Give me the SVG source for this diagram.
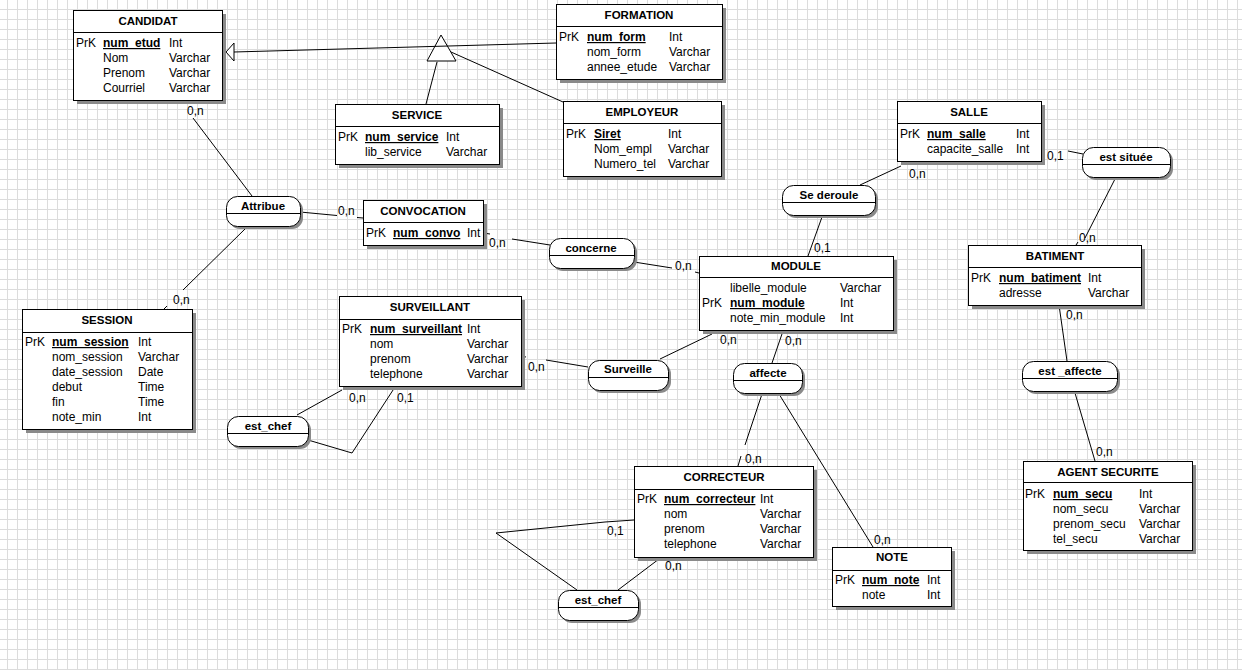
<svg xmlns="http://www.w3.org/2000/svg" width="1242" height="670" viewBox="0 0 1242 670">
<defs>
<pattern id="grid" x="7" y="9" width="10" height="10" patternUnits="userSpaceOnUse">
<path d="M0,0.5 H10 M0.5,0 V10" fill="none" stroke="#dcdcdc" stroke-width="1"/>
</pattern>
<style>
text{font-family:"Liberation Sans",Arial,sans-serif;font-size:12px;fill:#000}
.t{font-weight:bold;font-size:11.5px;text-anchor:middle}
.k{font-weight:bold;text-decoration:underline}
.box{fill:#fff;stroke:#000;stroke-width:1}
.sh{fill:#8a8a8a}
.sep{stroke:#000;stroke-width:1}
.c{fill:none;stroke:#000;stroke-width:1}
</style>
</defs>
<rect width="1242" height="670" fill="#fff"/>
<rect width="1242" height="670" fill="url(#grid)"/>

<g id="connectors">
<polygon points="441,35 427,61 456,61" fill="#fff" stroke="#000"/>
<path class="c" d="M556,43 L234,52"/>
<polygon points="226,52 234,43 234,61" fill="#fff" stroke="#000"/>
<path class="c" d="M437,62 L426,104"/>
<path class="c" d="M451,52 L563,102"/>
<path class="c" d="M180,100 L183,104 M193,118 L252,196"/>
<path class="c" d="M246,228 L183,290 M167,306 L164,309"/>
<path class="c" d="M300,212 L337,215.5 M357,217.5 L363,218"/>
<path class="c" d="M483,233 L490,234 M512,239 L550,245"/>
<path class="c" d="M634,262 L672,268 M695,272 L699,273"/>
<path class="c" d="M660,359 L712,334"/>
<path class="c" d="M772,363 L783,331"/>
<path class="c" d="M860,185 L901,166"/>
<path class="c" d="M822,217 L808,256"/>
<path class="c" d="M1041,145 L1045,146 M1068,151 L1083,154"/>
<path class="c" d="M1115,179 L1085,238 M1078,242 L1076,245"/>
<path class="c" d="M1059,305 L1067,361"/>
<path class="c" d="M1075,393 L1095,461"/>
<path class="c" d="M521,356 L526,357 M546,360 L588,367"/>
<path class="c" d="M297,415 L342,390"/>
<path class="c" d="M308,440 L352,453 L395,387"/>
<path class="c" d="M762,394 L745,445 M741,456 L738,466"/>
<path class="c" d="M779,394 L873,547"/>
<path class="c" d="M618,590 L659,559"/>
<path class="c" d="M577,590 L496,533 L605,522 L634,520"/>
<text x="187" y="115">0,n</text>
<text x="173" y="304">0,n</text>
<text x="338" y="215">0,n</text>
<text x="489" y="247">0,n</text>
<text x="675" y="270">0,n</text>
<text x="720" y="344">0,n</text>
<text x="785" y="345">0,n</text>
<text x="909" y="178">0,n</text>
<text x="814" y="252">0,1</text>
<text x="1047" y="160">0,1</text>
<text x="1079" y="242">0,n</text>
<text x="1066" y="319">0,n</text>
<text x="1096" y="456">0,n</text>
<text x="528" y="371">0,n</text>
<text x="349" y="402">0,n</text>
<text x="397" y="402">0,1</text>
<text x="745" y="463">0,n</text>
<text x="874" y="544">0,n</text>
<text x="665" y="570">0,n</text>
<text x="607" y="535">0,1</text>
</g>

<g id="CANDIDAT">
<rect class="sh" x="77" y="14" width="149" height="90"/>
<rect class="box" x="73.5" y="10.5" width="149" height="90"/>
<line class="sep" x1="73.5" y1="32.5" x2="222.5" y2="32.5"/>
<text class="t" x="148" y="25">CANDIDAT</text>
<text x="76" y="47">PrK</text><text class="k" x="103" y="47">num_etud</text><text x="169" y="47">Int</text>
<text x="103" y="62">Nom</text><text x="169" y="62">Varchar</text>
<text x="103" y="77">Prenom</text><text x="169" y="77">Varchar</text>
<text x="103" y="92">Courriel</text><text x="169" y="92">Varchar</text>
</g>

<g id="FORMATION">
<rect class="sh" x="560" y="8" width="166" height="75"/>
<rect class="box" x="556.5" y="4.5" width="166" height="75"/>
<line class="sep" x1="556.5" y1="26.5" x2="722.5" y2="26.5"/>
<text class="t" x="639" y="19">FORMATION</text>
<text x="559" y="41">PrK</text><text class="k" x="587" y="41">num_form</text><text x="669" y="41">Int</text>
<text x="587" y="56">nom_form</text><text x="669" y="56">Varchar</text>
<text x="587" y="71">annee_etude</text><text x="669" y="71">Varchar</text>
</g>

<g id="SERVICE">
<rect class="sh" x="339" y="108" width="164" height="60"/>
<rect class="box" x="335.5" y="104.5" width="164" height="60"/>
<line class="sep" x1="335.5" y1="126.5" x2="499.5" y2="126.5"/>
<text class="t" x="417" y="119">SERVICE</text>
<text x="338" y="141">PrK</text><text class="k" x="365" y="141">num_service</text><text x="446" y="141">Int</text>
<text x="365" y="156">lib_service</text><text x="446" y="156">Varchar</text>
</g>

<g id="EMPLOYEUR">
<rect class="sh" x="567" y="105" width="158" height="75"/>
<rect class="box" x="563.5" y="101.5" width="158" height="75"/>
<line class="sep" x1="563.5" y1="123.5" x2="721.5" y2="123.5"/>
<text class="t" x="642" y="116">EMPLOYEUR</text>
<text x="566" y="138">PrK</text><text class="k" x="594" y="138">Siret</text><text x="668" y="138">Int</text>
<text x="594" y="153">Nom_empl</text><text x="668" y="153">Varchar</text>
<text x="594" y="168">Numero_tel</text><text x="668" y="168">Varchar</text>
</g>

<g id="CONVOCATION">
<rect class="sh" x="367" y="204" width="120" height="45"/>
<rect class="box" x="363.5" y="200.5" width="120" height="45"/>
<line class="sep" x1="363.5" y1="222.5" x2="483.5" y2="222.5"/>
<text class="t" x="423" y="215">CONVOCATION</text>
<text x="366" y="237">PrK</text><text class="k" x="393" y="237">num_convo</text><text x="467" y="237">Int</text>
</g>

<g id="SESSION">
<rect class="sh" x="26" y="313" width="170" height="120"/>
<rect class="box" x="22.5" y="309.5" width="170" height="120"/>
<line class="sep" x1="22.5" y1="332.5" x2="192.5" y2="332.5"/>
<text class="t" x="107" y="324">SESSION</text>
<text x="25" y="346">PrK</text><text class="k" x="52" y="346">num_session</text><text x="138" y="346">Int</text>
<text x="52" y="361">nom_session</text><text x="138" y="361">Varchar</text>
<text x="52" y="376">date_session</text><text x="138" y="376">Date</text>
<text x="52" y="391">debut</text><text x="138" y="391">Time</text>
<text x="52" y="406">fin</text><text x="138" y="406">Time</text>
<text x="52" y="421">note_min</text><text x="138" y="421">Int</text>
</g>

<g id="SURVEILLANT">
<rect class="sh" x="343" y="300" width="182" height="90"/>
<rect class="box" x="339.5" y="296.5" width="182" height="90"/>
<line class="sep" x1="339.5" y1="319.5" x2="521.5" y2="319.5"/>
<text class="t" x="430" y="311">SURVEILLANT</text>
<text x="342" y="333">PrK</text><text class="k" x="370" y="333">num_surveillant</text><text x="467" y="333">Int</text>
<text x="370" y="348">nom</text><text x="467" y="348">Varchar</text>
<text x="370" y="363">prenom</text><text x="467" y="363">Varchar</text>
<text x="370" y="378">telephone</text><text x="467" y="378">Varchar</text>
</g>

<g id="MODULE">
<rect class="sh" x="703" y="260" width="194" height="74"/>
<rect class="box" x="699.5" y="256.5" width="194" height="74"/>
<line class="sep" x1="699.5" y1="277.5" x2="893.5" y2="277.5"/>
<text class="t" x="796" y="270">MODULE</text>
<text x="730" y="292">libelle_module</text><text x="840" y="292">Varchar</text>
<text x="702" y="307">PrK</text><text class="k" x="730" y="307">num_module</text><text x="840" y="307">Int</text>
<text x="730" y="322">note_min_module</text><text x="840" y="322">Int</text>
</g>

<g id="SALLE">
<rect class="sh" x="901" y="105" width="144" height="60"/>
<rect class="box" x="897.5" y="101.5" width="144" height="60"/>
<line class="sep" x1="897.5" y1="123.5" x2="1041.5" y2="123.5"/>
<text class="t" x="969" y="116">SALLE</text>
<text x="900" y="138">PrK</text><text class="k" x="927" y="138">num_salle</text><text x="1016" y="138">Int</text>
<text x="927" y="153">capacite_salle</text><text x="1016" y="153">Int</text>
</g>

<g id="BATIMENT">
<rect class="sh" x="972" y="249" width="173" height="60"/>
<rect class="box" x="968.5" y="245.5" width="173" height="60"/>
<line class="sep" x1="968.5" y1="267.5" x2="1141.5" y2="267.5"/>
<text class="t" x="1055" y="260">BATIMENT</text>
<text x="971" y="282">PrK</text><text class="k" x="999" y="282">num_batiment</text><text x="1088" y="282">Int</text>
<text x="999" y="297">adresse</text><text x="1088" y="297">Varchar</text>
</g>

<g id="AGENT_SECURITE">
<rect class="sh" x="1027" y="465" width="169" height="89"/>
<rect class="box" x="1023.5" y="461.5" width="169" height="89"/>
<line class="sep" x1="1023.5" y1="482.5" x2="1192.5" y2="482.5"/>
<text class="t" x="1108" y="476">AGENT SECURITE</text>
<text x="1025" y="498">PrK</text><text class="k" x="1053" y="498">num_secu</text><text x="1139" y="498">Int</text>
<text x="1053" y="513">nom_secu</text><text x="1139" y="513">Varchar</text>
<text x="1053" y="528">prenom_secu</text><text x="1139" y="528">Varchar</text>
<text x="1053" y="543">tel_secu</text><text x="1139" y="543">Varchar</text>
</g>

<g id="CORRECTEUR">
<rect class="sh" x="638" y="470" width="179" height="91"/>
<rect class="box" x="634.5" y="466.5" width="179" height="91"/>
<line class="sep" x1="634.5" y1="489.5" x2="813.5" y2="489.5"/>
<text class="t" x="724" y="481">CORRECTEUR</text>
<text x="637" y="503">PrK</text><text class="k" x="664" y="503">num_correcteur</text><text x="760" y="503">Int</text>
<text x="664" y="518">nom</text><text x="760" y="518">Varchar</text>
<text x="664" y="533">prenom</text><text x="760" y="533">Varchar</text>
<text x="664" y="548">telephone</text><text x="760" y="548">Varchar</text>
</g>

<g id="NOTE">
<rect class="sh" x="836" y="551" width="119" height="59"/>
<rect class="box" x="832.5" y="547.5" width="119" height="59"/>
<line class="sep" x1="832.5" y1="570.5" x2="951.5" y2="570.5"/>
<text class="t" x="892" y="561">NOTE</text>
<text x="835" y="584">PrK</text><text class="k" x="862" y="584">num_note</text><text x="927" y="584">Int</text>
<text x="862" y="599">note</text><text x="927" y="599">Int</text>
</g>

<g id="Attribue">
<rect class="sh" x="229" y="199" width="74" height="30" rx="11"/>
<rect class="box" x="226.5" y="196.5" width="74" height="30" rx="11"/>
<line class="sep" x1="226.5" y1="213.5" x2="300.5" y2="213.5"/>
<text class="t" x="263" y="210">Attribue</text>
</g>

<g id="concerne">
<rect class="sh" x="552" y="241" width="85" height="30" rx="11"/>
<rect class="box" x="549.5" y="238.5" width="85" height="30" rx="11"/>
<line class="sep" x1="549.5" y1="255.5" x2="634.5" y2="255.5"/>
<text class="t" x="591" y="252">concerne</text>
</g>

<g id="Surveille">
<rect class="sh" x="591" y="363" width="80" height="30" rx="11"/>
<rect class="box" x="588.5" y="360.5" width="80" height="30" rx="11"/>
<line class="sep" x1="588.5" y1="377.5" x2="668.5" y2="377.5"/>
<text class="t" x="628" y="373">Surveille</text>
</g>

<g id="affecte">
<rect class="sh" x="736" y="366" width="69" height="30" rx="11"/>
<rect class="box" x="733.5" y="363.5" width="69" height="30" rx="11"/>
<line class="sep" x1="733.5" y1="380.5" x2="802.5" y2="380.5"/>
<text class="t" x="768" y="377">affecte</text>
</g>

<g id="Se_deroule">
<rect class="sh" x="785" y="188" width="93" height="30" rx="11"/>
<rect class="box" x="782.5" y="185.5" width="93" height="30" rx="11"/>
<line class="sep" x1="782.5" y1="202.5" x2="875.5" y2="202.5"/>
<text class="t" x="829" y="199">Se deroule</text>
</g>

<g id="est_situee">
<rect class="sh" x="1085" y="150" width="88" height="30" rx="11"/>
<rect class="box" x="1082.5" y="147.5" width="88" height="30" rx="11"/>
<line class="sep" x1="1082.5" y1="164.5" x2="1170.5" y2="164.5"/>
<text class="t" x="1126" y="161">est située</text>
</g>

<g id="est_affecte">
<rect class="sh" x="1025" y="364" width="95" height="30" rx="11"/>
<rect class="box" x="1022.5" y="361.5" width="95" height="30" rx="11"/>
<line class="sep" x1="1022.5" y1="378.5" x2="1117.5" y2="378.5"/>
<text class="t" x="1070" y="375">est _affecte</text>
</g>

<g id="est_chef_surveillant">
<rect class="sh" x="230" y="419" width="81" height="30" rx="11"/>
<rect class="box" x="227.5" y="416.5" width="81" height="30" rx="11"/>
<line class="sep" x1="227.5" y1="433.5" x2="308.5" y2="433.5"/>
<text class="t" x="268" y="430">est_chef</text>
</g>

<g id="est_chef_correcteur">
<rect class="sh" x="561" y="593" width="80" height="30" rx="11"/>
<rect class="box" x="558.5" y="590.5" width="80" height="30" rx="11"/>
<line class="sep" x1="558.5" y1="607.5" x2="638.5" y2="607.5"/>
<text class="t" x="598" y="604">est_chef</text>
</g>
</svg>
